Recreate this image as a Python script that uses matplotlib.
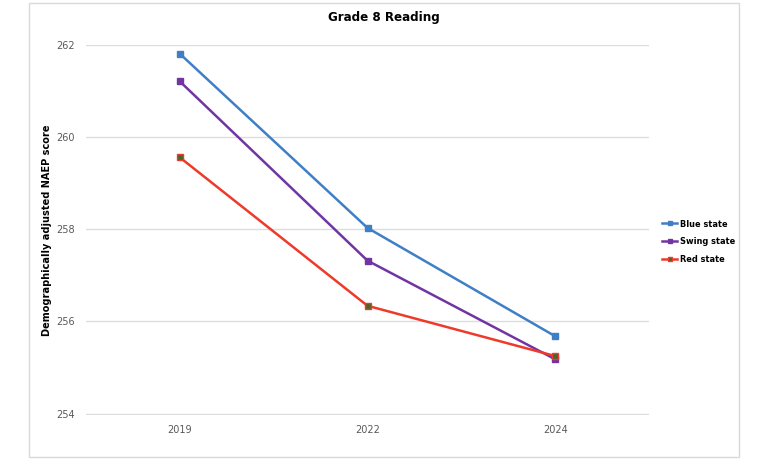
import matplotlib
matplotlib.use("Agg")
import matplotlib.pyplot as plt
from matplotlib.patches import Rectangle

years = ['2019', '2022', '2024']
blue = [261.81, 258.03, 255.68]
swing = [261.21, 257.32, 255.18]
red = [259.56, 256.34, 255.25]

fig = plt.figure(figsize=(7.68, 4.61), dpi=100)
ax = fig.add_axes([86/768, 1 - 415/461, (649 - 86)/768, (415 - 45)/461])

x = range(len(years))
ax.plot(x, blue, color='#3F7FC6', lw=1.8, marker='s', ms=4,
        label='Blue state')
ax.plot(x, swing, color='#7135A3', lw=1.8, marker='s', ms=4,
        label='Swing state')
ax.plot(x, red, color='#EE3A2A', lw=1.8, marker='s', ms=4,
        mfc='#3E6A2C', mec='#EE3A2A', label='Red state')

ax.set_xlim(-0.5, 2.5)
ax.set_ylim(253.97, 262)
ax.set_yticks([254, 256, 258, 260, 262])
ax.set_xticks(list(x))
ax.set_xticklabels(years)
ax.grid(axis='y', color='#DDDDDD', lw=1)
ax.set_axisbelow(True)
for s in ax.spines.values():
    s.set_visible(False)
ax.tick_params(length=0, labelsize=7, labelcolor='#595959')
ax.tick_params(axis='y', pad=8)
ax.tick_params(axis='x', pad=7)

ax.set_ylabel('Demographically adjusted NAEP score', fontsize=7.8,
              fontweight='bold', fontstretch='condensed')
ax.yaxis.set_label_coords(-0.060, 0.5)

fig.text(384/768, 1 - 18/461, 'Grade 8 Reading', ha='center', va='center',
         fontsize=9.5, fontweight='bold', fontstretch='condensed')

leg = ax.legend(loc='center left', bbox_to_anchor=(1.008, 0.468), frameon=False,
                prop={'weight': 'bold', 'size': 6.6, 'stretch': 'condensed'},
                handlelength=1.7, handletextpad=0.3, labelspacing=0.95,
                markerscale=0.8)

fig.patches.append(Rectangle((29/768, 1 - 457/461), (739 - 29)/768, (457 - 3)/461,
                             transform=fig.transFigure, fill=False,
                             edgecolor='#D9D9D9', lw=1))

fig.savefig('out.png', dpi=100)
